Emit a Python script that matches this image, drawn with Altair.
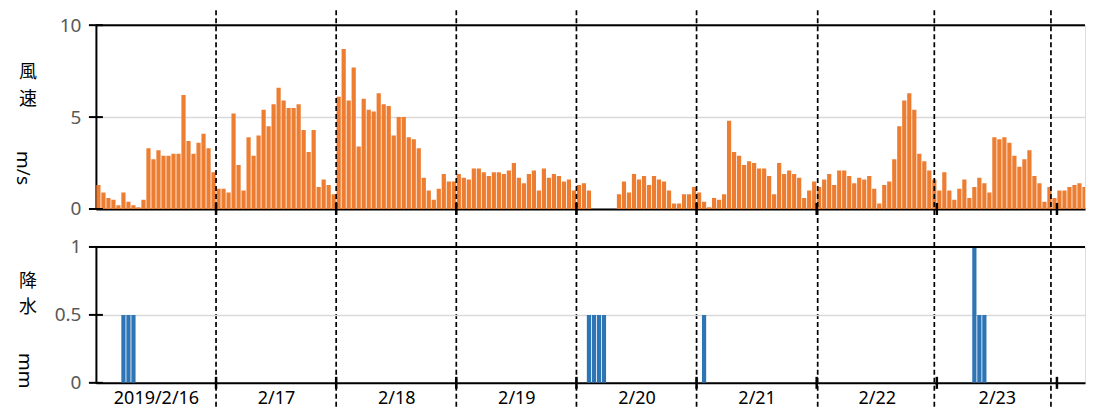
import altair as alt
import pandas as pd

# ---------------- data ----------------
day_labels = ["2019/2/16", "2/17", "2/18", "2/19", "2/20", "2/21", "2/22", "2/23", "2/24"]

wind_0216 = [1.3, 0.9, 0.6, 0.5, 0.2, 0.9, 0.4, 0.2, 0.1, 0.5, 3.3, 2.7, 3.2, 2.9, 2.9, 3.0, 3.0, 6.2, 3.7, 3.0, 3.6, 4.1, 3.3, 2.0]
wind_0217 = [1.1, 1.1, 0.9, 5.2, 2.4, 1.0, 3.9, 2.9, 4.0, 5.4, 4.5, 5.7, 6.6, 5.9, 5.5, 5.5, 5.7, 4.3, 3.1, 4.3, 1.2, 1.6, 1.3, 0.8]
wind_0218 = [6.1, 8.7, 5.9, 7.7, 3.4, 6.0, 5.4, 5.3, 6.3, 5.7, 5.6, 4.0, 5.0, 5.0, 3.9, 3.8, 3.3, 1.7, 1.0, 0.5, 1.1, 1.9, 1.5, 1.5]
wind_0219 = [1.9, 1.7, 1.6, 2.2, 2.2, 2.0, 1.8, 2.0, 2.0, 1.9, 2.1, 2.5, 1.7, 1.4, 1.9, 2.1, 1.0, 2.2, 1.7, 1.9, 1.8, 1.5, 1.6, 1.0]
wind_0220 = [1.3, 1.4, 1.0, 0.0, 0.0, 0.0, 0.0, 0.0, 0.8, 1.5, 0.9, 1.9, 1.6, 1.8, 1.3, 1.8, 1.6, 1.5, 1.0, 0.3, 0.3, 0.8, 0.8, 1.2]
wind_0221 = [0.9, 0.4, 0.1, 0.6, 0.5, 0.8, 4.8, 3.1, 2.9, 2.4, 2.6, 2.5, 2.2, 2.2, 1.8, 0.8, 2.5, 1.9, 2.1, 1.9, 1.7, 0.6, 1.0, 1.5]
wind_0222 = [1.2, 1.6, 1.9, 1.3, 2.1, 2.1, 1.8, 1.4, 1.7, 1.6, 1.8, 1.1, 0.3, 1.3, 1.5, 2.7, 4.5, 5.9, 6.3, 5.4, 3.0, 2.6, 2.1, 1.6]
wind_0223 = [1.0, 2.0, 1.0, 0.5, 1.1, 1.6, 0.6, 1.2, 1.7, 1.4, 0.9, 3.9, 3.8, 3.9, 3.6, 2.9, 2.3, 2.7, 3.2, 1.8, 1.4, 0.4, 1.2, 0.6]
wind_0224 = [1.0, 1.0, 1.2, 1.3, 1.4, 1.2, 2.0, 1.9]
wind_by_day = [wind_0216, wind_0217, wind_0218, wind_0219, wind_0220,
               wind_0221, wind_0222, wind_0223, wind_0224]

# precipitation: day index, hour index within day, amount (mm)
precip_day = [0, 0, 0, 4, 4, 4, 4, 5, 7, 7, 7]
precip_hour = [5, 6, 7, 2, 3, 4, 5, 1, 7, 8, 9]
precip_mm = [0.5, 0.5, 0.5, 0.5, 0.5, 0.5, 0.5, 0.5, 1.0, 0.5, 0.5]

wind_ticks = [0, 5, 10]
rain_ticks = [0, 0.5, 1]
# hand-drawn dashed separators (hours from 2019/2/16 00:00)
separator_hours = [24, 48, 72, 96, 120, 144.2, 167.5, 190.8]

# ---------------- tables ----------------
wind_rows = []
for d, vals in enumerate(wind_by_day):
    for h, v in enumerate(vals):
        wind_rows.append({"k": d * 24 + h, "v": v})
wind_df = pd.DataFrame(wind_rows)

rain_df = pd.DataFrame({
    "k": [d * 24 + h for d, h in zip(precip_day, precip_hour)],
    "mm": precip_mm,
})
bound_df = pd.DataFrame({"b": [24 * (i + 1) for i in range(len(day_labels))]})
sep_df = pd.DataFrame({"s": separator_hours})
wt_df = pd.DataFrame({"y": wind_ticks})
rt_df = pd.DataFrame({"y": rain_ticks})
one = pd.DataFrame({"a": [0]})

PX_PER_HOUR = 5.01
W = 990
X_END = W / PX_PER_HOUR          # visible hours (chart is cut at the right edge)
H1, H2 = 184, 136
ORANGE = "#ED7D31"
BLUE = "#2E75B6"
GRAY_TXT = "#595959"
GRID = "#D9D9D9"
FONT = "Noto Sans"
CJK = "Noto Sans CJK JP"

xscale = alt.Scale(domain=[0, X_END], nice=False, zero=False)

label_arr = "[" + ",".join(f"'{d}'" for d in day_labels) + "]"
label_expr = f"{label_arr}[round((datum.value - 12) / 24)]"
label_values = [12 + 24 * i for i in range(len(day_labels)) if 12 + 24 * i < X_END]


def cjk_title(chars, x, y):
    return alt.Chart(one).mark_text(
        text=list(chars), font=CJK, fontSize=18, lineHeight=26.5, color="black",
        align="center", baseline="top",
    ).encode(x=alt.value(x), y=alt.value(y))


def unit_title(txt, x, y):
    return alt.Chart(one).mark_text(
        text=txt, font=FONT, fontSize=19, color="black",
        align="center", baseline="middle", angle=90,
    ).encode(x=alt.value(x), y=alt.value(y))


def bound_ticks(h):
    return alt.Chart(bound_df).transform_filter(f"datum.b < {X_END}").mark_rule(
        color="black", strokeWidth=2.5).encode(
        x="b:Q", y=alt.value(h - 6), y2=alt.value(h + 6))


# ---------------- top panel: wind speed ----------------
wind_bars = alt.Chart(wind_df).transform_calculate(
    x0="datum.k + 0.08", x1="datum.k + 0.92"
).mark_bar(color=ORANGE, clip=True).encode(
    x=alt.X("x0:Q", scale=xscale,
            axis=alt.Axis(labels=False, ticks=False, grid=False, title=None,
                          domainColor="black", domainWidth=2)),
    x2="x1:Q",
    y=alt.Y("v:Q", scale=alt.Scale(domain=[0, 10], nice=False),
            axis=alt.Axis(values=wind_ticks, grid=True, gridColor=GRID, gridWidth=1.5,
                          ticks=False, domainColor="black", domainWidth=2,
                          labelFont=FONT, labelFontSize=19, labelColor=GRAY_TXT,
                          labelPadding=15, title=None)),
    y2=alt.datum(0),
)
top_border = alt.Chart(pd.DataFrame({"y": [max(wind_ticks)]})).mark_rule(
    color="black", strokeWidth=2).encode(y=alt.Y("y:Q"), x=alt.value(0), x2=alt.value(W))
wind_yticks = alt.Chart(wt_df).mark_rule(color="black", strokeWidth=2).encode(
    y="y:Q", x=alt.value(-7), x2=alt.value(7))
separators = alt.Chart(sep_df).mark_rule(
    color="black", strokeWidth=1.7, strokeDash=[5, 3]).encode(
    x="s:Q", y=alt.value(-15), y2=alt.value(383))
left_anchor = alt.Chart(one).mark_rule(opacity=0).encode(
    x=alt.value(-87), y=alt.value(0), y2=alt.value(1))

top = alt.layer(
    wind_bars, top_border, wind_yticks, bound_ticks(H1),
    cjk_title("風速", -68, 39),
    unit_title("m/s", -73, 143),
    separators, left_anchor,
).properties(width=W, height=H1)

# ---------------- bottom panel: precipitation ----------------
rain_bars = alt.Chart(rain_df).transform_calculate(
    x0="datum.k + 0.08", x1="datum.k + 0.92"
).mark_bar(color=BLUE, clip=True).encode(
    x=alt.X("x0:Q", scale=xscale,
            axis=alt.Axis(values=label_values,
                          labelExpr=label_expr, ticks=False, grid=False, title=None,
                          domainColor="black", domainWidth=2,
                          labelFont=FONT, labelFontSize=18, labelColor="black",
                          labelPadding=7, labelFlush=False, labelOverlap=False)),
    x2="x1:Q",
    y=alt.Y("mm:Q", scale=alt.Scale(domain=[0, 1], nice=False),
            axis=alt.Axis(values=rain_ticks, format=".1~f", grid=True, gridColor=GRID,
                          gridWidth=1.5, ticks=False, domainColor="black", domainWidth=2,
                          labelFont=FONT, labelFontSize=19, labelColor=GRAY_TXT,
                          labelPadding=15, title=None)),
    y2=alt.datum(0),
)
rain_border = alt.Chart(pd.DataFrame({"y": [max(rain_ticks)]})).mark_rule(
    color="black", strokeWidth=2).encode(y=alt.Y("y:Q"), x=alt.value(0), x2=alt.value(W))
rain_yticks = alt.Chart(rt_df).mark_rule(color="black", strokeWidth=2).encode(
    y="y:Q", x=alt.value(-7), x2=alt.value(7))

bottom = alt.layer(
    rain_bars, rain_border, rain_yticks, bound_ticks(H2),
    cjk_title("降水", -68, 26),
    unit_title("mm", -71, 124),
).properties(width=W, height=H2)

chart = alt.vconcat(top, bottom, spacing=38, bounds="flush").properties(
    padding={"left": 0, "top": 0, "right": 0, "bottom": 0}
).configure_view(stroke=None).configure(background="white")

chart.save("out.html", embed_options={"renderer": "svg", "actions": False})
